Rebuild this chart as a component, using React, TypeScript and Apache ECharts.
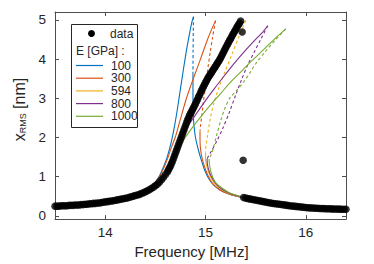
import React, { useEffect, useRef } from "react";
import * as echarts from "echarts";

const FONT = "'Liberation Sans', Arial, Helvetica, sans-serif";

const xTicks = [14, 15, 16];
const yTicks = [0, 1, 2, 3, 4, 5];
const eLabels = ["100", "300", "594", "800", "1000"];
const colors = ["#0072BD", "#D95319", "#EDB120", "#7E2F8E", "#77AC30"];

// measured data: up-sweep branch, two isolated points at the jump, down branch
const dataUp: number[][] = [
  [13.5, 0.25], [13.52, 0.25], [13.54, 0.25], [13.56, 0.26], [13.58, 0.26], [13.6, 0.26], [13.62, 0.26],
  [13.64, 0.27], [13.66, 0.27], [13.68, 0.27], [13.7, 0.28], [13.72, 0.28], [13.74, 0.28], [13.76, 0.29],
  [13.78, 0.29], [13.8, 0.3], [13.82, 0.3], [13.84, 0.31], [13.86, 0.31], [13.88, 0.32], [13.9, 0.32],
  [13.92, 0.33], [13.94, 0.33], [13.96, 0.34], [13.98, 0.35], [14.0, 0.36], [14.02, 0.365], [14.04, 0.372],
  [14.06, 0.38], [14.08, 0.39], [14.1, 0.4], [14.12, 0.41], [14.14, 0.42], [14.16, 0.43], [14.18, 0.44],
  [14.2, 0.45], [14.22, 0.46], [14.24, 0.475], [14.26, 0.49], [14.28, 0.505], [14.3, 0.52], [14.32, 0.535],
  [14.34, 0.55], [14.36, 0.57], [14.38, 0.59], [14.4, 0.615], [14.42, 0.64], [14.44, 0.67], [14.46, 0.7],
  [14.48, 0.735], [14.5, 0.77], [14.52, 0.81], [14.54, 0.86], [14.56, 0.92], [14.58, 0.98], [14.6, 1.05],
  [14.62, 1.12], [14.63, 1.17], [14.64, 1.22], [14.65, 1.27], [14.66, 1.33], [14.67, 1.39], [14.68, 1.46],
  [14.69, 1.53], [14.7, 1.6], [14.71, 1.67], [14.72, 1.74], [14.73, 1.81], [14.74, 1.88], [14.75, 1.95],
  [14.76, 2.02], [14.77, 2.09], [14.78, 2.16], [14.79, 2.23], [14.8, 2.3], [14.81, 2.37], [14.82, 2.44],
  [14.83, 2.5], [14.84, 2.56], [14.85, 2.61], [14.86, 2.66], [14.87, 2.71], [14.88, 2.76], [14.89, 2.81],
  [14.9, 2.86], [14.91, 2.92], [14.92, 2.97], [14.93, 3.03], [14.94, 3.08], [14.95, 3.14], [14.96, 3.2],
  [14.97, 3.25], [14.98, 3.3], [14.99, 3.35], [15.0, 3.4], [15.01, 3.45], [15.02, 3.5], [15.03, 3.54],
  [15.04, 3.58], [15.05, 3.62], [15.06, 3.66], [15.07, 3.7], [15.08, 3.74], [15.09, 3.78], [15.1, 3.82],
  [15.11, 3.86], [15.12, 3.9], [15.13, 3.94], [15.14, 3.98], [15.15, 4.03], [15.16, 4.08], [15.17, 4.13],
  [15.18, 4.18], [15.19, 4.23], [15.2, 4.28], [15.21, 4.33], [15.22, 4.38], [15.23, 4.43], [15.24, 4.48],
  [15.25, 4.52], [15.26, 4.57], [15.27, 4.62], [15.28, 4.66], [15.29, 4.71], [15.3, 4.75], [15.31, 4.8],
  [15.32, 4.84], [15.33, 4.88], [15.34, 4.92], [15.35, 4.97],
];
const dataJump: number[][] = [[15.365, 4.69], [15.375, 1.42]];
const dataDown: number[][] = [
  [15.38, 0.47], [15.4, 0.455], [15.42, 0.445], [15.44, 0.435], [15.46, 0.425], [15.48, 0.415], [15.5, 0.405],
  [15.52, 0.395], [15.54, 0.385], [15.56, 0.375], [15.58, 0.365], [15.6, 0.355], [15.62, 0.345], [15.64, 0.335],
  [15.66, 0.325], [15.68, 0.318], [15.7, 0.311], [15.72, 0.304], [15.74, 0.297], [15.76, 0.29], [15.78, 0.283],
  [15.8, 0.276], [15.82, 0.269], [15.84, 0.262], [15.86, 0.256], [15.88, 0.25], [15.9, 0.244], [15.92, 0.238],
  [15.94, 0.232], [15.96, 0.226], [15.98, 0.22], [16.0, 0.215], [16.02, 0.211], [16.04, 0.207], [16.06, 0.204],
  [16.08, 0.201], [16.1, 0.198], [16.12, 0.195], [16.14, 0.192], [16.16, 0.19], [16.18, 0.188], [16.2, 0.186],
  [16.22, 0.184], [16.24, 0.182], [16.26, 0.18], [16.28, 0.178], [16.3, 0.176], [16.32, 0.175], [16.34, 0.174],
  [16.36, 0.173], [16.38, 0.172], [16.4, 0.171],
];

// model curves: stable upper branch, unstable (dashed) branch, stable lower branch
const upper100: number[][] = [
  [14.4, 0.62], [14.48, 0.8], [14.54, 1.02], [14.58, 1.24], [14.62, 1.52], [14.66, 1.9], [14.7, 2.42],
  [14.73, 2.9], [14.75, 3.24], [14.78, 3.74], [14.81, 4.22], [14.84, 4.64], [14.86, 4.9], [14.88, 5.08],
];
const unstable100: number[][] = [[14.88, 5.08], [14.878, 4.7], [14.876, 4.2], [14.875, 3.6]];
const lower100: number[][] = [
  [14.875, 3.6], [14.875, 3.0], [14.878, 2.6], [14.885, 2.3], [14.9, 2.0], [14.925, 1.72], [14.955, 1.45],
  [14.99, 1.18], [15.03, 0.96], [15.08, 0.79], [15.14, 0.67], [15.22, 0.57], [15.3, 0.51], [15.38, 0.47],
];

const upper300: number[][] = [
  [14.4, 0.62], [14.48, 0.8], [14.54, 1.0], [14.58, 1.2], [14.62, 1.45], [14.66, 1.75], [14.7, 2.02],
  [14.74, 2.38], [14.78, 2.74], [14.81, 3.0], [14.85, 3.3], [14.9, 3.65], [14.95, 4.0], [15.02, 4.5],
  [15.06, 4.75], [15.1, 4.98],
];
const unstable300: number[][] = [
  [15.1, 4.98], [15.07, 4.55], [15.045, 4.15], [15.02, 3.7], [15.0, 3.3], [14.978, 2.9], [14.96, 2.5],
  [14.95, 2.3], [14.945, 2.15],
];
const lower300: number[][] = [
  [14.945, 2.15], [14.946, 1.85], [14.955, 1.62], [14.97, 1.43], [14.995, 1.22], [15.03, 1.0], [15.075, 0.81],
  [15.14, 0.67], [15.22, 0.57], [15.3, 0.51], [15.38, 0.47],
];

const upper594: number[][] = [
  [14.4, 0.62], [14.5, 0.77], [14.56, 0.92], [14.62, 1.12], [14.66, 1.33], [14.7, 1.6], [14.74, 1.88],
  [14.8, 2.3], [14.86, 2.66], [14.92, 2.97], [15.0, 3.4], [15.08, 3.74], [15.16, 4.08], [15.24, 4.48],
  [15.3, 4.75], [15.36, 4.92], [15.4, 4.98],
];
const unstable594: number[][] = [
  [15.4, 4.98], [15.33, 4.55], [15.26, 4.1], [15.19, 3.65], [15.13, 3.25], [15.08, 2.85], [15.045, 2.45],
  [15.02, 2.05], [15.005, 1.8], [15.0, 1.62],
];
const lower594: number[][] = [
  [15.0, 1.62], [15.0, 1.45], [15.01, 1.3], [15.03, 1.12], [15.06, 0.95], [15.1, 0.8], [15.15, 0.69],
  [15.22, 0.59], [15.3, 0.52], [15.38, 0.47],
];

const upper800: number[][] = [
  [14.4, 0.62], [14.5, 0.77], [14.56, 0.92], [14.62, 1.14], [14.68, 1.5], [14.73, 1.85], [14.78, 2.12],
  [14.88, 2.5], [14.98, 2.87], [15.08, 3.22], [15.18, 3.55], [15.28, 3.87], [15.38, 4.17], [15.48, 4.45],
  [15.56, 4.66], [15.62, 4.85],
];
const unstable800: number[][] = [
  [15.62, 4.85], [15.56, 4.55], [15.49, 4.2], [15.42, 3.85], [15.36, 3.48], [15.3, 3.08], [15.24, 2.66],
  [15.17, 2.22], [15.11, 1.9], [15.06, 1.66], [15.03, 1.53], [15.015, 1.45],
];
const lower800: number[][] = [
  [15.015, 1.45], [15.02, 1.3], [15.035, 1.15], [15.055, 1.02], [15.09, 0.87], [15.14, 0.73], [15.2, 0.63],
  [15.27, 0.55], [15.38, 0.47],
];

const upper1000: number[][] = [
  [14.4, 0.62], [14.5, 0.77], [14.56, 0.92], [14.62, 1.14], [14.66, 1.35], [14.7, 1.55], [14.75, 1.8],
  [14.8, 2.01], [14.85, 2.19], [14.95, 2.52], [15.05, 2.83], [15.15, 3.12], [15.25, 3.41], [15.35, 3.67],
  [15.45, 3.93], [15.55, 4.17], [15.65, 4.42], [15.73, 4.61], [15.8, 4.77],
];
const unstable1000: number[][] = [
  [15.8, 4.77], [15.7, 4.5], [15.6, 4.2], [15.5, 3.88], [15.443, 3.65], [15.38, 3.42], [15.31, 3.2],
  [15.244, 3.01], [15.19, 2.72], [15.15, 2.42], [15.11, 2.05], [15.08, 1.75], [15.055, 1.55], [15.035, 1.45],
];
const lower1000: number[][] = [
  [15.035, 1.45], [15.04, 1.3], [15.055, 1.12], [15.075, 0.97], [15.105, 0.84], [15.16, 0.72], [15.22, 0.62],
  [15.29, 0.54], [15.38, 0.47],
];

const curves = [
  [upper100, unstable100, lower100],
  [upper300, unstable300, lower300],
  [upper594, unstable594, lower594],
  [upper800, unstable800, lower800],
  [upper1000, unstable1000, lower1000],
];

const AXIS_COLOR = "#4d4d4d";
const TEXT_COLOR = "#262626";

export default function App() {
  const ref = useRef<HTMLDivElement>(null);
  useEffect(() => {
    if (!ref.current) return;
    const chart = echarts.init(ref.current, undefined, { renderer: "svg" });

    const series: any[] = [];
    curves.forEach((c, i) => {
      c.forEach((d, k) => {
        series.push({
          type: "line",
          data: d,
          showSymbol: false,
          symbol: "none",
          smooth: 0.3,
          z: 2,
          lineStyle: {
            color: colors[i],
            width: 1.1,
            type: k === 1 ? [3, 2.5] : "solid",
          },
          silent: true,
        });
      });
    });
    series.push({
      type: "scatter",
      data: [...dataUp, ...dataJump, ...dataDown],
      symbol: "circle",
      symbolSize: 7.5,
      itemStyle: { color: "#000" },
      z: 5,
      silent: true,
    });

    const tickStyle = { color: AXIS_COLOR, width: 1 };
    const xCommon = {
      type: "value",
      min: 13.5,
      max: 16.4,
      splitLine: { show: false },
      axisLine: { show: true, onZero: false, lineStyle: tickStyle },
      axisTick: { show: true, inside: true, length: 4, customValues: xTicks, lineStyle: tickStyle },
    };
    const yCommon = {
      type: "value",
      min: -0.08,
      max: 5.2,
      splitLine: { show: false },
      axisLine: { show: true, onZero: false, lineStyle: tickStyle },
      axisTick: { show: true, inside: true, length: 4, customValues: yTicks, lineStyle: tickStyle },
    };

    const legendY0 = 65.5;
    const legendDy = 12.7;
    const graphic: any[] = [
      {
        type: "rect",
        z: 100,
        shape: { x: 71.5, y: 24.5, width: 66, height: 103 },
        style: { fill: "#fff", stroke: TEXT_COLOR, lineWidth: 1 },
      },
      { type: "circle", z: 101, shape: { cx: 91.5, cy: 33.5, r: 3.5 }, style: { fill: "#000" } },
      {
        type: "text",
        z: 101,
        x: 110,
        y: 33.5,
        style: { text: "data", font: `12px ${FONT}`, fill: TEXT_COLOR, verticalAlign: "middle", align: "left" },
      },
      {
        type: "text",
        z: 101,
        x: 76,
        y: 51,
        style: { text: "E [GPa] :", font: `12px ${FONT}`, fill: TEXT_COLOR, verticalAlign: "middle", align: "left" },
      },
    ];
    eLabels.forEach((lab, i) => {
      const y = legendY0 + i * legendDy;
      graphic.push({
        type: "line",
        z: 101,
        shape: { x1: 76, y1: y, x2: 103, y2: y },
        style: { stroke: colors[i], lineWidth: 1.2 },
      });
      graphic.push({
        type: "text",
        z: 101,
        x: 111,
        y: y,
        style: { text: lab, font: `12px ${FONT}`, fill: TEXT_COLOR, verticalAlign: "middle", align: "left" },
      });
    });

    chart.setOption({
      animation: false,
      backgroundColor: "#fff",
      textStyle: { fontFamily: FONT },
      grid: { left: 55, right: 28, top: 12, bottom: 40, containLabel: false },
      xAxis: [
        {
          ...xCommon,
          position: "bottom",
          axisLabel: { customValues: xTicks, fontSize: 13.5, color: TEXT_COLOR, margin: 6, fontFamily: FONT },
          name: "Frequency [MHz]",
          nameLocation: "middle",
          nameGap: 19,
          nameTextStyle: { fontSize: 15, color: TEXT_COLOR, fontFamily: FONT, padding: [0, 18, 0, 0] },
        },
        { ...xCommon, position: "top", axisLabel: { show: false } },
      ],
      yAxis: [
        {
          ...yCommon,
          position: "left",
          axisLabel: { customValues: yTicks, fontSize: 13.5, color: TEXT_COLOR, margin: 9, fontFamily: FONT },
          name: "{a|x}{b|RMS}{a| [nm]}",
          nameLocation: "middle",
          nameGap: 23,
          nameTextStyle: {
            color: TEXT_COLOR,
            fontFamily: FONT,
            padding: [0, 0, 0, 12],
            rich: {
              a: { fontSize: 16, color: TEXT_COLOR, fontFamily: FONT },
              b: { fontSize: 9, color: TEXT_COLOR, fontFamily: FONT, verticalAlign: "bottom", padding: [4, 0, 0, 0] },
            },
          },
        },
        { ...yCommon, position: "right", axisLabel: { show: false } },
      ],
      series,
      graphic,
    });
    return () => chart.dispose();
  }, []);
  return (
    <div
      ref={ref}
      style={{ position: "absolute", left: 0, top: 0, width: 374, height: 264 }}
    />
  );
}
